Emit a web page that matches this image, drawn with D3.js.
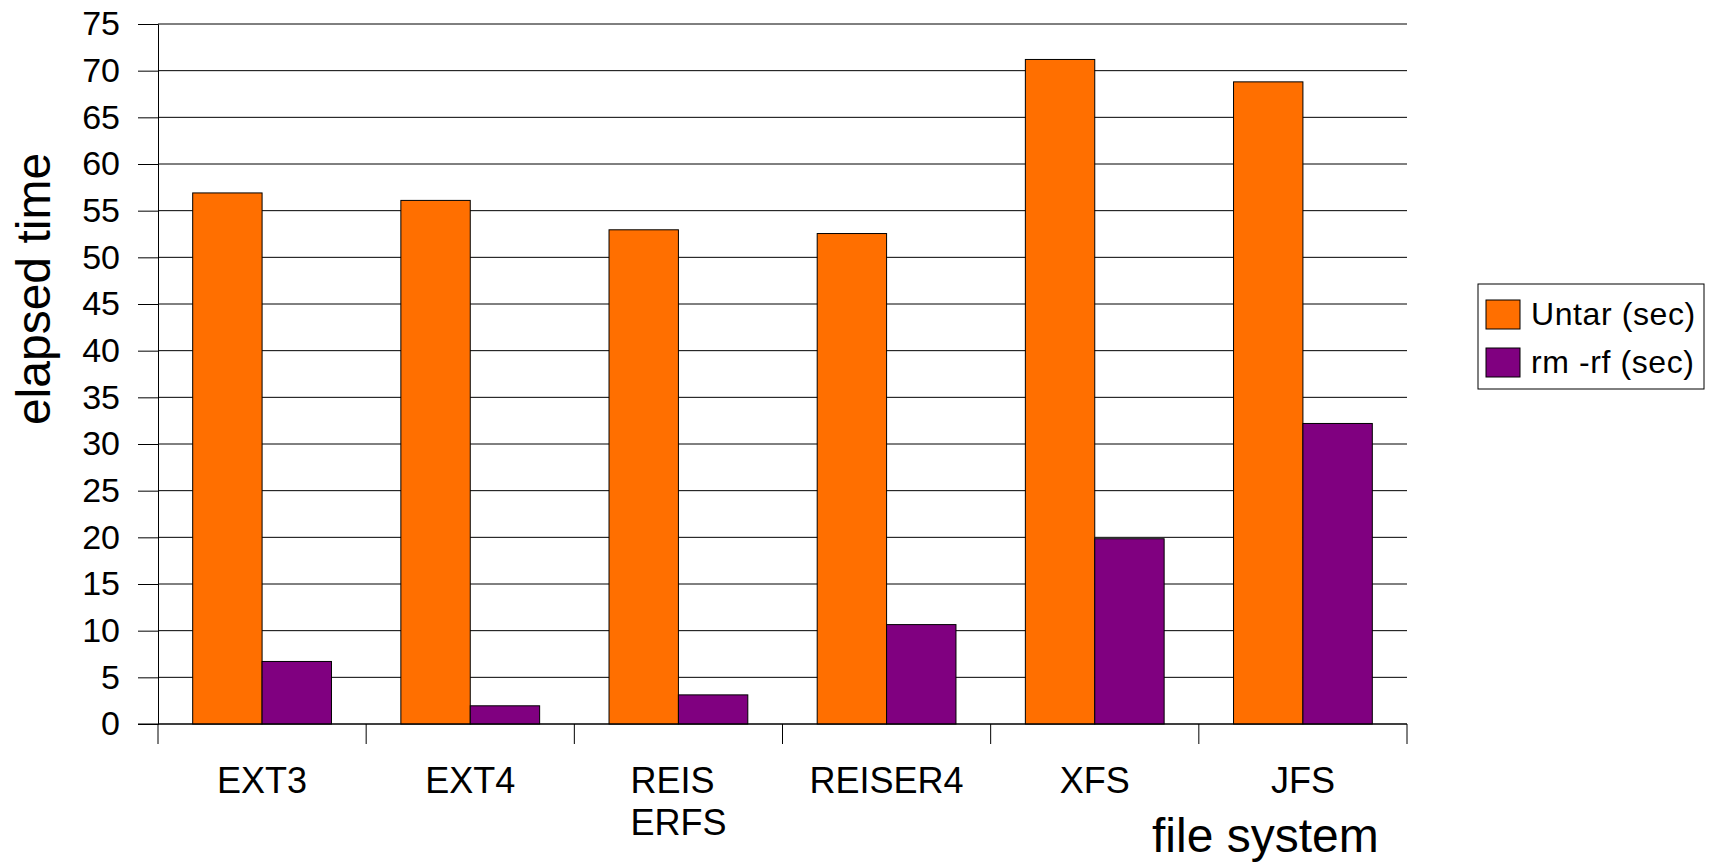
<!DOCTYPE html>
<html>
<head>
<meta charset="utf-8">
<script src="https://cdn.jsdelivr.net/npm/d3@7"></script>
<style>
  body { margin: 0; background: #fff; }
  svg { display: block; font-family: "Liberation Sans", Arial, sans-serif; }
</style>
</head>
<body>
<div id="chart"></div>
<script>
// data
const categories = ["EXT3", "EXT4", "REISERFS", "REISER4", "XFS", "JFS"];
const categoryLabels = [["EXT3"], ["EXT4"], ["REIS", "ERFS"], ["REISER4"], ["XFS"], ["JFS"]];
const seriesNames = ["Untar (sec)", "rm -rf (sec)"];
const untar = [56.9, 56.1, 52.95, 52.55, 71.2, 68.8];
const rmrf = [6.7, 1.95, 3.12, 10.65, 19.85, 32.2];
const yTicks = [0, 5, 10, 15, 20, 25, 30, 35, 40, 45, 50, 55, 60, 65, 70, 75];
const colors = ["#ff6f00", "#800080"];

const W = 1709, H = 864;
const plotLeft = 158, plotRight = 1407, plotTop = 24, plotBottom = 724;

const svg = d3.select("#chart").append("svg")
  .attr("width", W)
  .attr("height", H);

const y = d3.scaleLinear().domain([0, 75]).range([plotBottom, plotTop]);
const x0 = d3.scaleBand().domain(categories).range([plotLeft, plotRight]);
const x1 = d3.scaleBand().domain(seriesNames).range([0, x0.bandwidth()])
  .paddingInner(0).paddingOuter(0.5);

// gridlines
svg.append("g")
  .selectAll("line")
  .data(yTicks)
  .join("line")
  .attr("x1", plotLeft).attr("x2", plotRight)
  .attr("y1", d => y(d)).attr("y2", d => y(d))
  .attr("stroke", "#000").attr("stroke-width", 1);

// y axis
const yAxis = svg.append("g")
  .attr("transform", `translate(${plotLeft},0)`)
  .call(d3.axisLeft(y).tickValues(yTicks).tickSize(20).tickPadding(18));
yAxis.select(".domain").attr("stroke", "#000");
yAxis.selectAll(".tick line").attr("stroke", "#000");
yAxis.selectAll(".tick text")
  .attr("font-size", 34)
  .attr("fill", "#000")
  .attr("font-family", "Liberation Sans, Arial, sans-serif");

// bars
const rows = categories.map((c, i) => ({ cat: c, vals: [untar[i], rmrf[i]] }));
const groups = svg.append("g")
  .selectAll("g")
  .data(rows)
  .join("g")
  .attr("transform", d => `translate(${x0(d.cat)},0)`);
groups.selectAll("rect")
  .data(d => d.vals.map((v, j) => ({ name: seriesNames[j], v: v, j: j })))
  .join("rect")
  .attr("x", d => x1(d.name))
  .attr("width", x1.bandwidth())
  .attr("y", d => y(d.v))
  .attr("height", d => y(0) - y(d.v))
  .attr("fill", d => colors[d.j])
  .attr("stroke", "#000")
  .attr("stroke-width", 1);

// x axis line + category boundary ticks
svg.append("line")
  .attr("x1", plotLeft - 20).attr("x2", plotRight)
  .attr("y1", y(0)).attr("y2", y(0))
  .attr("stroke", "#000");
const bounds = categories.map(c => x0(c)).concat([x0.range()[1]]);
svg.append("g")
  .selectAll("line")
  .data(bounds)
  .join("line")
  .attr("x1", d => d).attr("x2", d => d)
  .attr("y1", y(0)).attr("y2", y(0) + 20)
  .attr("stroke", "#000");

// category labels, lines left aligned in a centred block
const catText = svg.append("g")
  .selectAll("text")
  .data(categories)
  .join("text")
  .attr("font-size", 36)
  .attr("fill", "#000");
catText.each(function(c, i) {
  const t = d3.select(this);
  categoryLabels[i].forEach((line, k) => {
    t.append("tspan").attr("x", 0).attr("y", 793 + k * 42).text(line);
  });
  const w = this.getBBox().width;
  const cx = x0(c) + x0.bandwidth() / 2;
  t.attr("transform", `translate(${cx - w / 2},0)`);
});

// axis titles
svg.append("text")
  .attr("transform", "translate(50,289) rotate(-90)")
  .attr("text-anchor", "middle")
  .attr("font-size", 48)
  .text("elapsed time");
svg.append("text")
  .attr("x", 1152).attr("y", 852)
  .attr("font-size", 48)
  .text("file system");

// legend
const legend = svg.append("g");
legend.append("rect")
  .attr("x", 1478).attr("y", 284)
  .attr("width", 226).attr("height", 105)
  .attr("fill", "#fff").attr("stroke", "#000");
seriesNames.forEach((name, i) => {
  legend.append("rect")
    .attr("x", 1486).attr("y", 300 + i * 48)
    .attr("width", 34).attr("height", 29)
    .attr("fill", colors[i]).attr("stroke", "#000");
  legend.append("text")
    .attr("x", 1531).attr("y", 325 + i * 48)
    .attr("font-size", 32)
    .attr("letter-spacing", 0.6)
    .text(name);
});
</script>
</body>
</html>
